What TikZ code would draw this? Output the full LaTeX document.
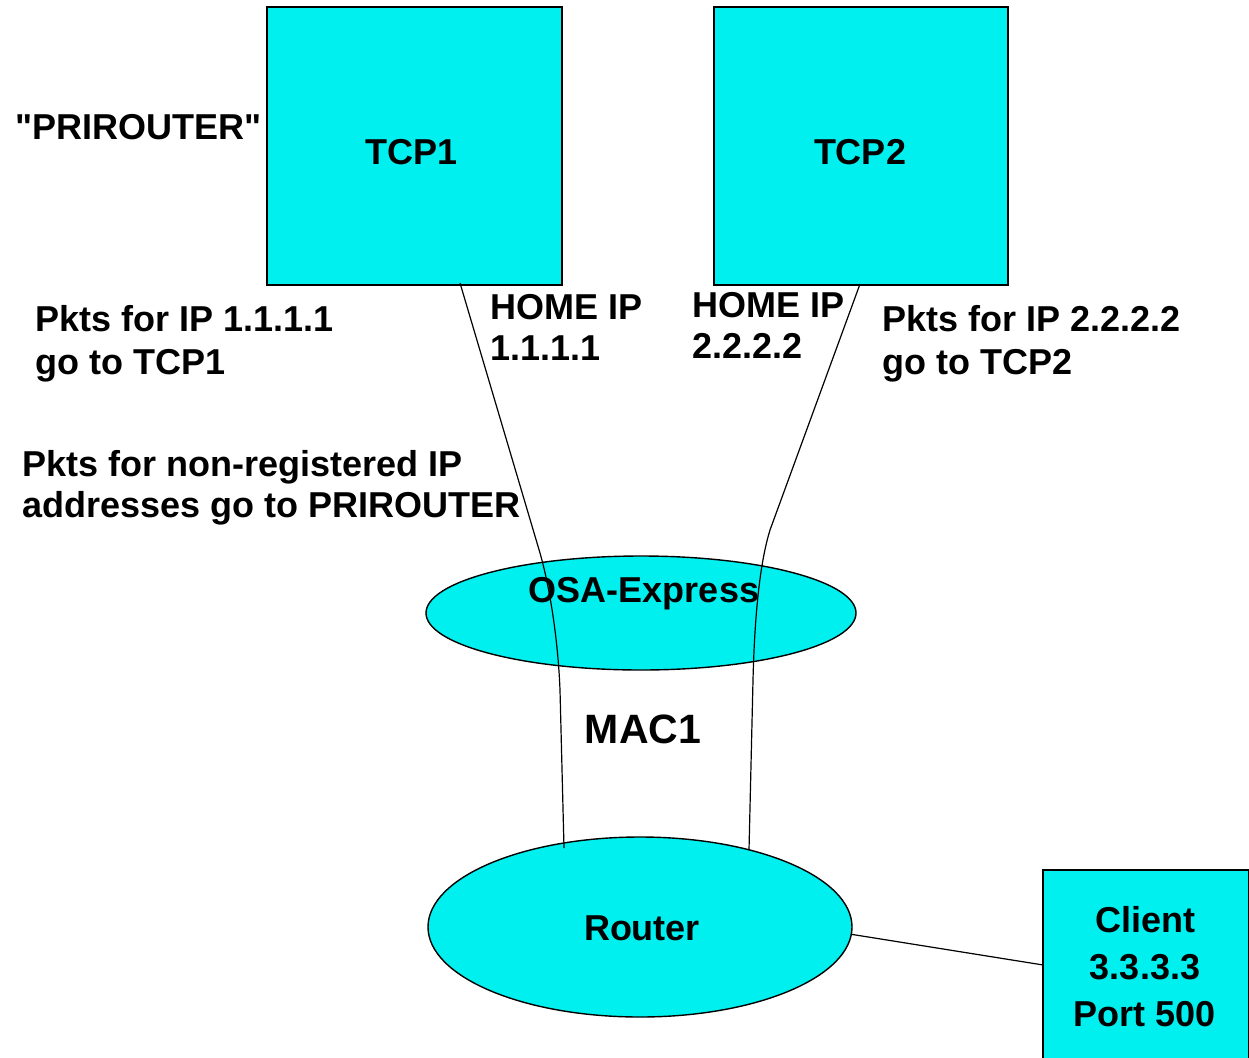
\documentclass[tikz,border=0pt]{standalone}
\usepackage{fontspec}
\newfontfamily\arialfont{Liberation Sans}
\usetikzlibrary{shapes.geometric,calc}
\definecolor{boxcyan}{RGB}{0,240,240}
\tikzset{
  cyanbox/.style={draw=black, line width=1.6pt, fill=boxcyan, rectangle, inner sep=0pt, anchor=north west},
  cyanoval/.style={draw=black, line width=1.4pt, fill=boxcyan, ellipse, inner sep=0pt},
  lbl/.style={font=\arialfont\fontsize{36}{41}\selectfont\bfseries, inner sep=0pt, align=left, anchor=base west},
  clbl/.style={font=\arialfont\fontsize{36}{41}\selectfont\bfseries, inner sep=0pt, align=center, anchor=base},
  wire/.style={draw=black, line width=1.2pt}
}
\begin{document}
\begin{tikzpicture}[x=1pt,y=1pt]
\useasboundingbox (0,0) rectangle (1249,-1057);
% boxes
\node[cyanbox, minimum width=295pt, minimum height=278pt] (tcp1) at (266,-6) {};
\node[cyanbox, minimum width=294pt, minimum height=278pt] (tcp2) at (713,-6) {};
\node[cyanbox, minimum width=206pt, minimum height=220pt] (client) at (1042,-869) {};
% ovals
\node[cyanoval, minimum width=430pt, minimum height=114pt] (osa) at (641,-613) {};
\node[cyanoval, minimum width=424pt, minimum height=180pt] (router) at (640,-927) {};
% connector coordinates
\coordinate (l0) at (460,-283);
\coordinate (l1) at (540,-553);
\coordinate (l2) at (560,-690);
\coordinate (l3) at (564,-848);
\coordinate (r0) at (860,-284);
\coordinate (r1) at (770,-530);
\coordinate (r2) at (753,-680);
\coordinate (r3) at (749,-850);
% connectors
\draw[wire] (l0) -- (l1) .. controls (550,-588) and (558,-640) .. (l2) -- (l3);
\draw[wire] (r0) -- (r1) .. controls (762,-556) and (755,-600) .. (r2) -- (r3);
\draw[wire] (router.-2) -- ([yshift=15pt]client.west);
% labels
\node[clbl] (tcp1t) at (412,-164) {TCP1};
\node[clbl] (tcp2t) at (860,-164) {TCP2};
\node[lbl] (prir) at (15,-139) {"PRIROUTER"};
\node[lbl, font=\arialfont\fontsize{36}{43}\selectfont\bfseries] (pk1) at (35,-374) {Pkts for IP 1.1.1.1\\go to TCP1};
\node[lbl] (home1) at (490,-360) {HOME IP\\1.1.1.1};
\node[lbl] (home2) at (692,-358) {HOME IP\\2.2.2.2};
\node[lbl, font=\arialfont\fontsize{36}{43}\selectfont\bfseries] (pk2) at (882,-374) {Pkts for IP 2.2.2.2\\go to TCP2};
\node[lbl] (pk3) at (22,-517) {Pkts for non-registered IP\\addresses go to PRIROUTER};
\node[clbl] (osat) at (644,-602) {OSA-Express};
\node[clbl, font=\arialfont\fontsize{41}{46}\selectfont\bfseries] (mac) at (643,-743) {MAC1};
\node[clbl] (routert) at (642,-940) {Router};
\node[clbl, font=\arialfont\fontsize{36}{47}\selectfont\bfseries] (clientt) at (1145,-1026) {Client\\3.3.3.3\\Port 500};
\end{tikzpicture}
\end{document}
